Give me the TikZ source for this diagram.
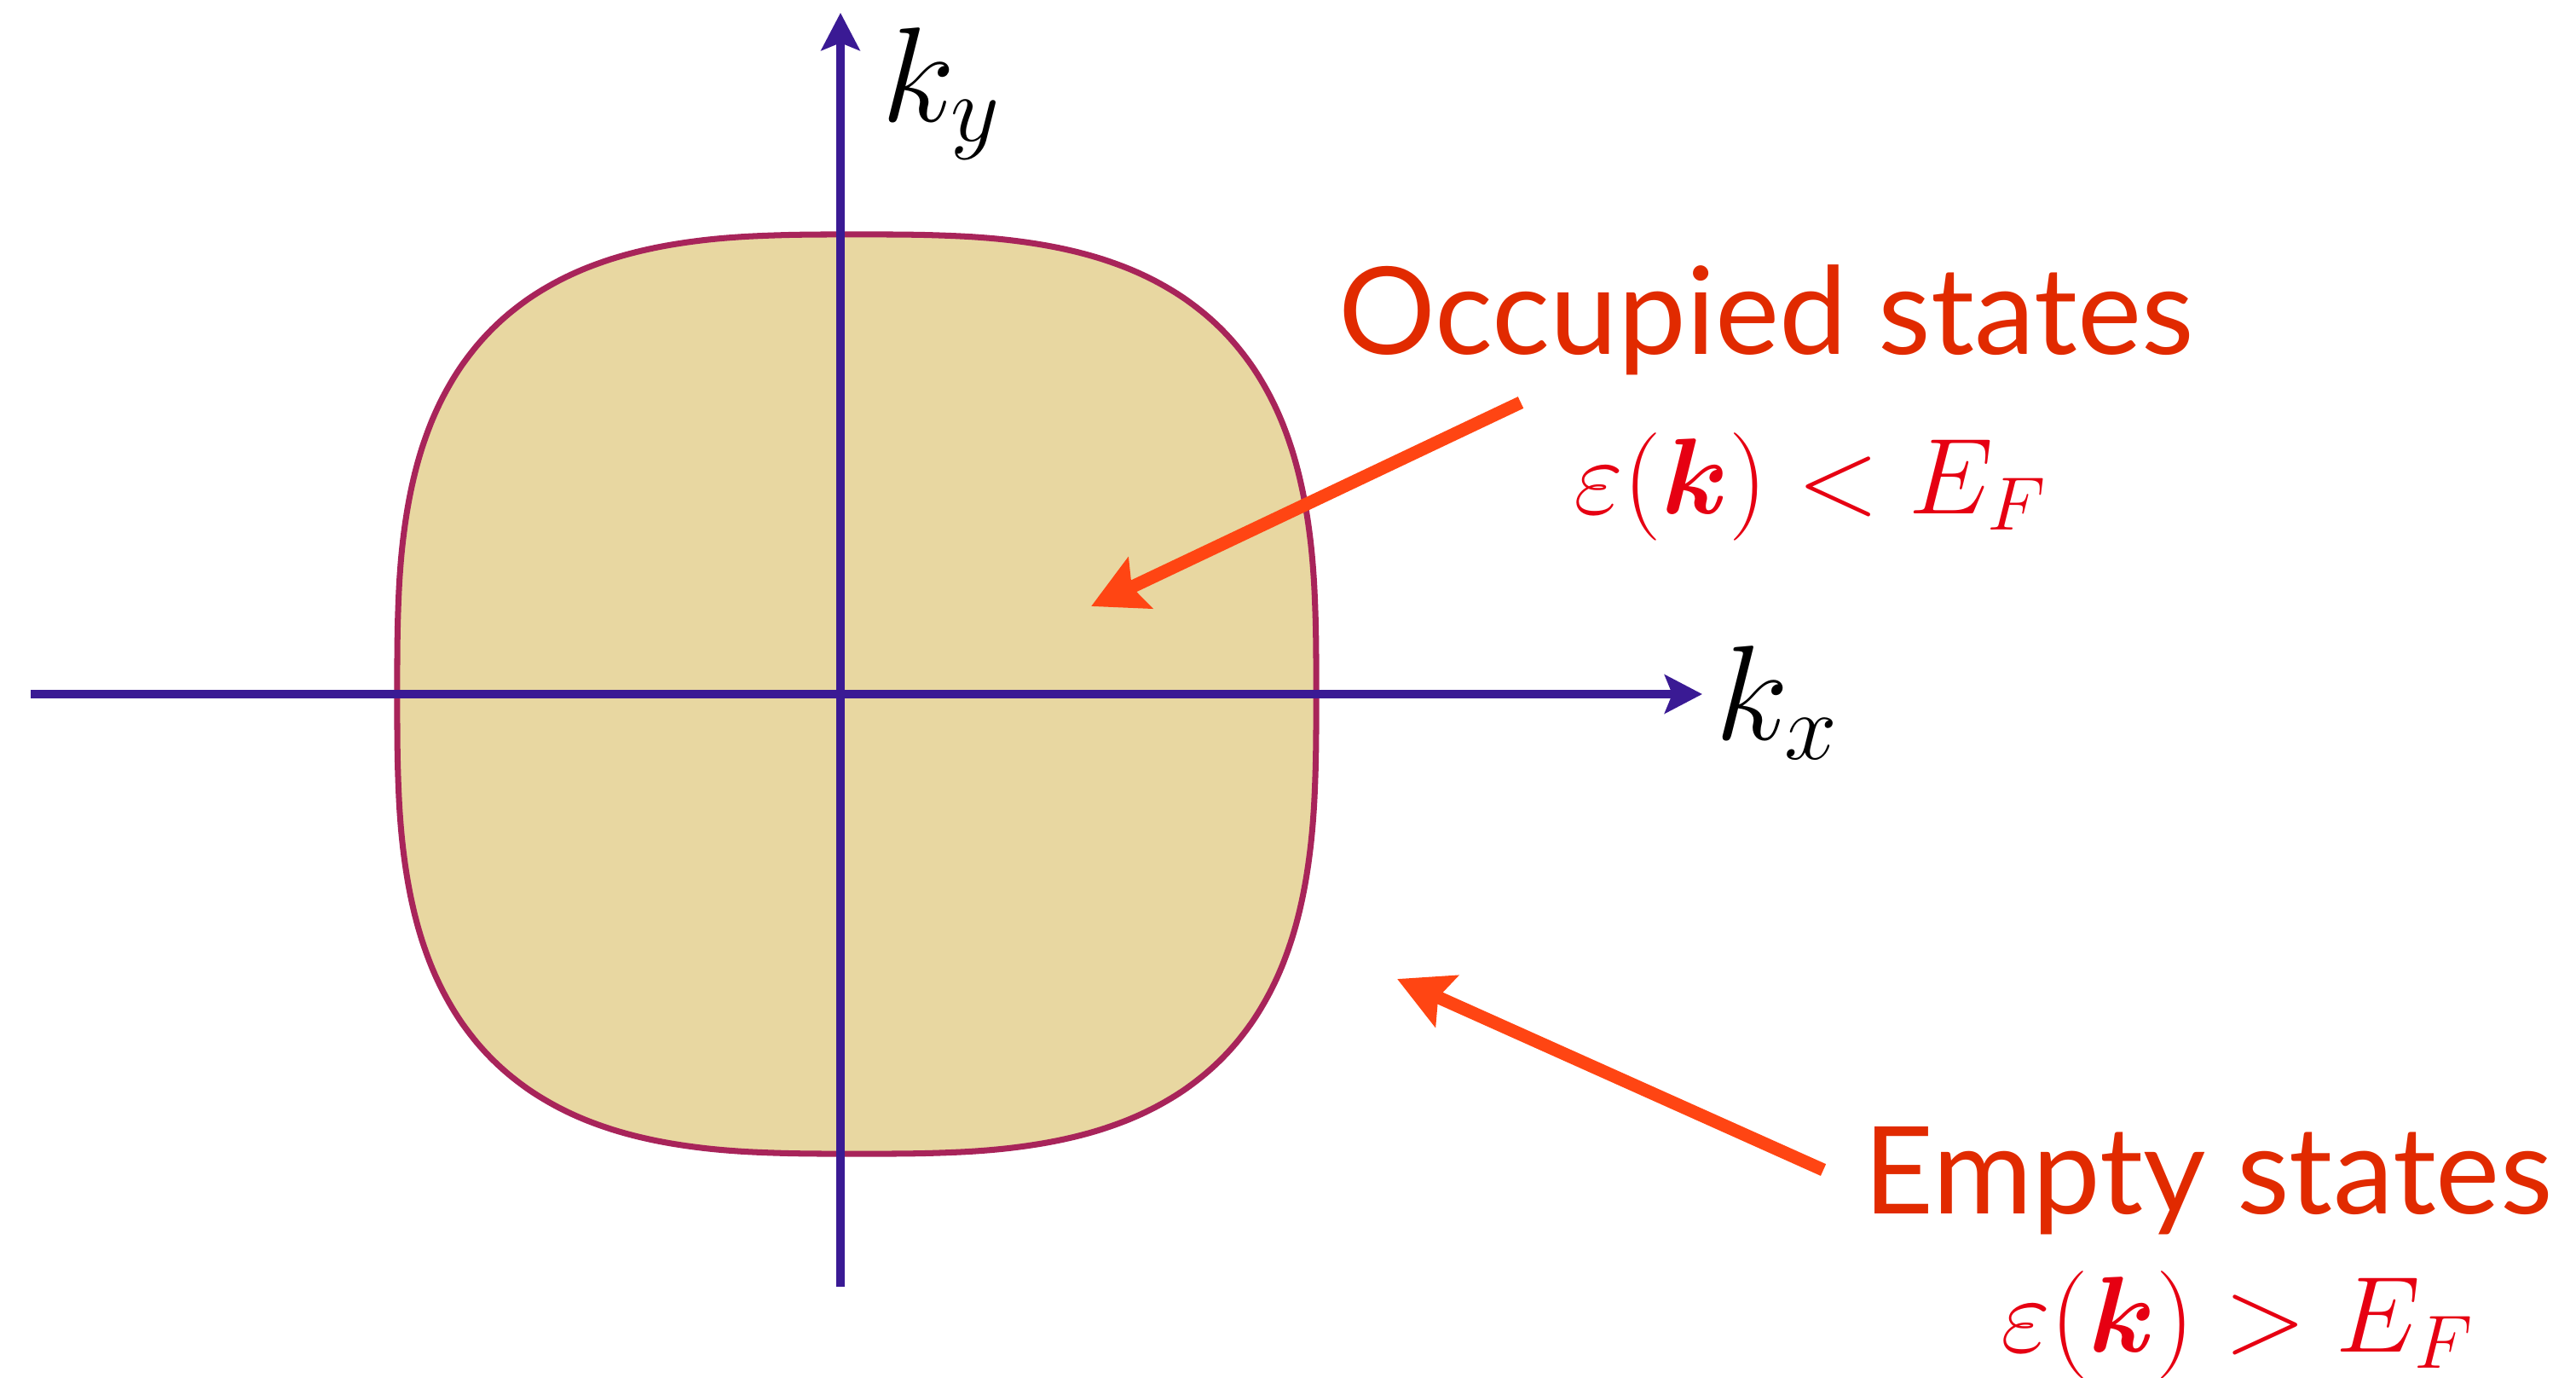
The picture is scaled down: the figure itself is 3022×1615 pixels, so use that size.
\RequirePackage{fix-cm}
\documentclass[tikz,border=0pt]{standalone}
\usepackage{fontspec}
\usepackage{bm}
\usetikzlibrary{arrows.meta}
\newfontfamily\labelfont{Lato}
\definecolor{axiscol}{HTML}{3A1A94}
\definecolor{fermiline}{HTML}{A8245A}
\definecolor{fermifill}{HTML}{E8D7A1}
\definecolor{wordred}{HTML}{E12A00}
\definecolor{mathred}{HTML}{E60012}
\definecolor{pointer}{HTML}{FF4513}
\tikzset{
  axis/.style={axiscol, line width=2.85pt, -{Stealth[length=12.5pt, width=12.8pt, inset=2.5pt]}},
  pointarrow/.style={pointer, line width=4.3pt, -{Stealth[length=18pt, width=18.5pt, inset=3pt]}},
  statetext/.style={wordred, inner sep=0pt, anchor=base west, font=\labelfont\fontsize{40.5}{48}\selectfont},
  condtext/.style={mathred, inner sep=0pt, anchor=base west, font=\fontsize{36}{42}\selectfont},
  klabel/.style={black, inner sep=0pt, anchor=base west, font=\fontsize{45}{54}\selectfont}
}
\begin{document}
\begin{tikzpicture}[x=0.01cm, y=-0.01cm]
    \useasboundingbox (0,0) rectangle (3022,1615);

    % Fermi surface
    \filldraw[fill=fermifill, draw=fermiline, line width=2pt]
        plot[domain=1:359, samples=180, smooth cycle]
        ({1005+539*sign(cos(\x))*abs(cos(\x))^(2/3)}, {814+539*sign(sin(\x))*abs(sin(\x))^(2/3)});

    % Axes
    \coordinate (xl) at (36,814);
    \coordinate (xr) at (1997,814);
    \coordinate (yb) at (986,1509);
    \coordinate (yt) at (986,15);
    \draw[axis] (xl) -- (xr);
    \draw[axis] (yb) -- (yt);
    \node[klabel] (kx) at (2012,867) {$k_x$};
    \node[klabel] (ky) at (1034,142) {$k_y$};

    % Occupied
    \node[statetext] (occ) at (1570,415) {Occupied states};
    \node[condtext] (occcond) at (1846,602) {$\varepsilon(\bm{k}) < E_F$};
    \coordinate (occtail) at (1784,472);
    \coordinate (occtip) at (1280,711);
    \draw[pointarrow] (occtail) -- (occtip);

    % Empty
    \node[statetext] (emp) at (2186,1423) {Empty states};
    \node[condtext] (empcond) at (2347,1585) {$\varepsilon(\bm{k}) > E_F$};
    \coordinate (emptail) at (2139,1372);
    \coordinate (emptip) at (1639,1148);
    \draw[pointarrow] (emptail) -- (emptip);
\end{tikzpicture}
\end{document}
